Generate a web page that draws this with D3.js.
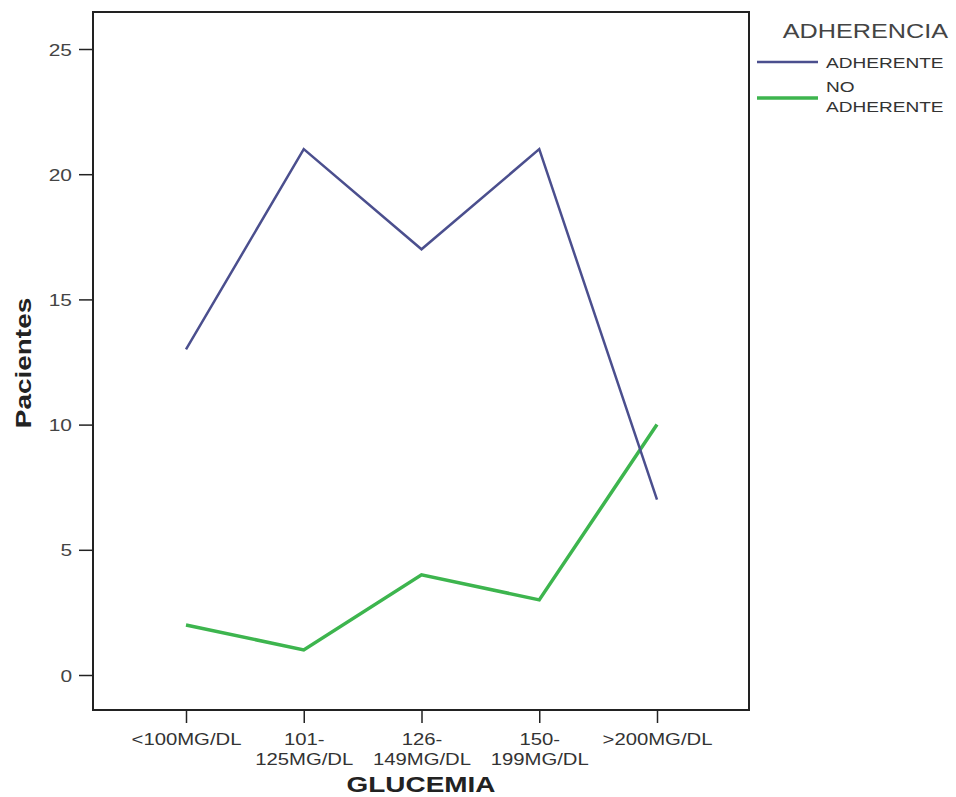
<!DOCTYPE html>
<html><head><meta charset="utf-8">
<script src="https://cdn.jsdelivr.net/npm/d3@7"></script>
<style>body{margin:0;background:#fff;} svg{display:block;}</style>
</head><body>
<svg id="chart" width="956" height="797"></svg>
<script>
const categories = ["<100MG/DL", "101-|125MG/DL", "126-|149MG/DL", "150-|199MG/DL", ">200MG/DL"];
const adherente = [13, 21, 17, 21, 7];
const noAdherente = [2, 1, 4, 3, 10];
const yTicks = [0, 5, 10, 15, 20, 25];
const seriesNames = ["ADHERENTE", "NO|ADHERENTE"];
const seriesColors = ["#4b4f8e", "#3db54e"];

const svg = d3.select("#chart");
const frame = {left: 93, top: 12, right: 749, bottom: 710};
const font = "Arial, 'Liberation Sans', sans-serif";
const SX = 1.23; // horizontal stretch of the reference's lettering

const x = d3.scalePoint().domain(categories).range([186, 657]);
const y = d3.scaleLinear().domain([0, 25]).range([675, 49]);

svg.append("rect").attr("x", frame.left).attr("y", frame.top)
  .attr("width", frame.right - frame.left).attr("height", frame.bottom - frame.top)
  .attr("fill", "none").attr("stroke", "#222").attr("stroke-width", 2);

// Y axis
const yAxis = d3.axisLeft(y).tickValues(yTicks).tickSize(14).tickPadding(6);
const gy = svg.append("g").attr("transform", `translate(${frame.left},0)`).call(yAxis);
gy.select(".domain").remove();
gy.selectAll(".tick line").attr("stroke", "#222").attr("stroke-width", 1.5);
gy.selectAll(".tick text").attr("font-family", font).attr("font-size", 17).attr("fill", "#444")
  .attr("x", 0).attr("dy", "0.36em").attr("transform", `translate(-21,0) scale(${SX},1)`);

// X axis
const xAxis = d3.axisBottom(x).tickSize(13).tickFormat("");
const gx = svg.append("g").attr("transform", `translate(0,${frame.bottom})`).call(xAxis);
gx.select(".domain").remove();
gx.selectAll(".tick line").attr("stroke", "#222").attr("stroke-width", 1.5);
gx.selectAll(".tick").each(function(d) {
  const parts = d.split("|");
  const t = d3.select(this).append("text").attr("font-family", font).attr("font-size", 16.5)
    .attr("fill", "#333").attr("text-anchor", "middle").attr("transform", `scale(${SX},1)`);
  parts.forEach((p, i) => t.append("tspan").attr("x", 0).attr("y", 35 + i * 20).text(p));
});

// Axis titles
svg.append("text").attr("transform", `translate(421,792) scale(1.27,1)`).attr("text-anchor", "middle")
  .attr("font-family", font).attr("font-size", 22).attr("font-weight", "bold").attr("fill", "#222")
  .text("GLUCEMIA");
svg.append("text").attr("transform", "translate(31,363) rotate(-90) scale(1.27,1)").attr("text-anchor", "middle")
  .attr("font-family", font).attr("font-size", 22).attr("font-weight", "bold").attr("fill", "#222")
  .text("Pacientes");

// Lines
const line = d3.line().x((d, i) => x(categories[i])).y(d => y(d));
svg.append("path").datum(noAdherente).attr("d", line).attr("fill", "none")
  .attr("stroke", seriesColors[1]).attr("stroke-width", 3.5).attr("stroke-linejoin", "miter");
svg.append("path").datum(adherente).attr("d", line).attr("fill", "none")
  .attr("stroke", seriesColors[0]).attr("stroke-width", 2.5).attr("stroke-linejoin", "miter");

// Legend
svg.append("text").attr("transform", `translate(948,38) scale(${SX},1)`).attr("text-anchor", "end")
  .attr("font-family", font).attr("font-size", 20.5).attr("fill", "#444").text("ADHERENCIA");
const legY = [62, 98];
const legW = [2.5, 3.5];
seriesNames.forEach((n, i) => {
  svg.append("line").attr("x1", 757).attr("x2", 818).attr("y1", legY[i]).attr("y2", legY[i])
    .attr("stroke", seriesColors[i]).attr("stroke-width", legW[i]);
  const parts = n.split("|");
  const t = svg.append("text").attr("font-family", font).attr("font-size", 15.5).attr("fill", "#333")
    .attr("transform", `translate(826,0) scale(${SX},1)`);
  const y0 = parts.length === 1 ? legY[i] + 6 : legY[i] - 6;
  parts.forEach((p, j) => t.append("tspan").attr("x", 0).attr("y", y0 + j * 20).text(p));
});
</script>
</body></html>
